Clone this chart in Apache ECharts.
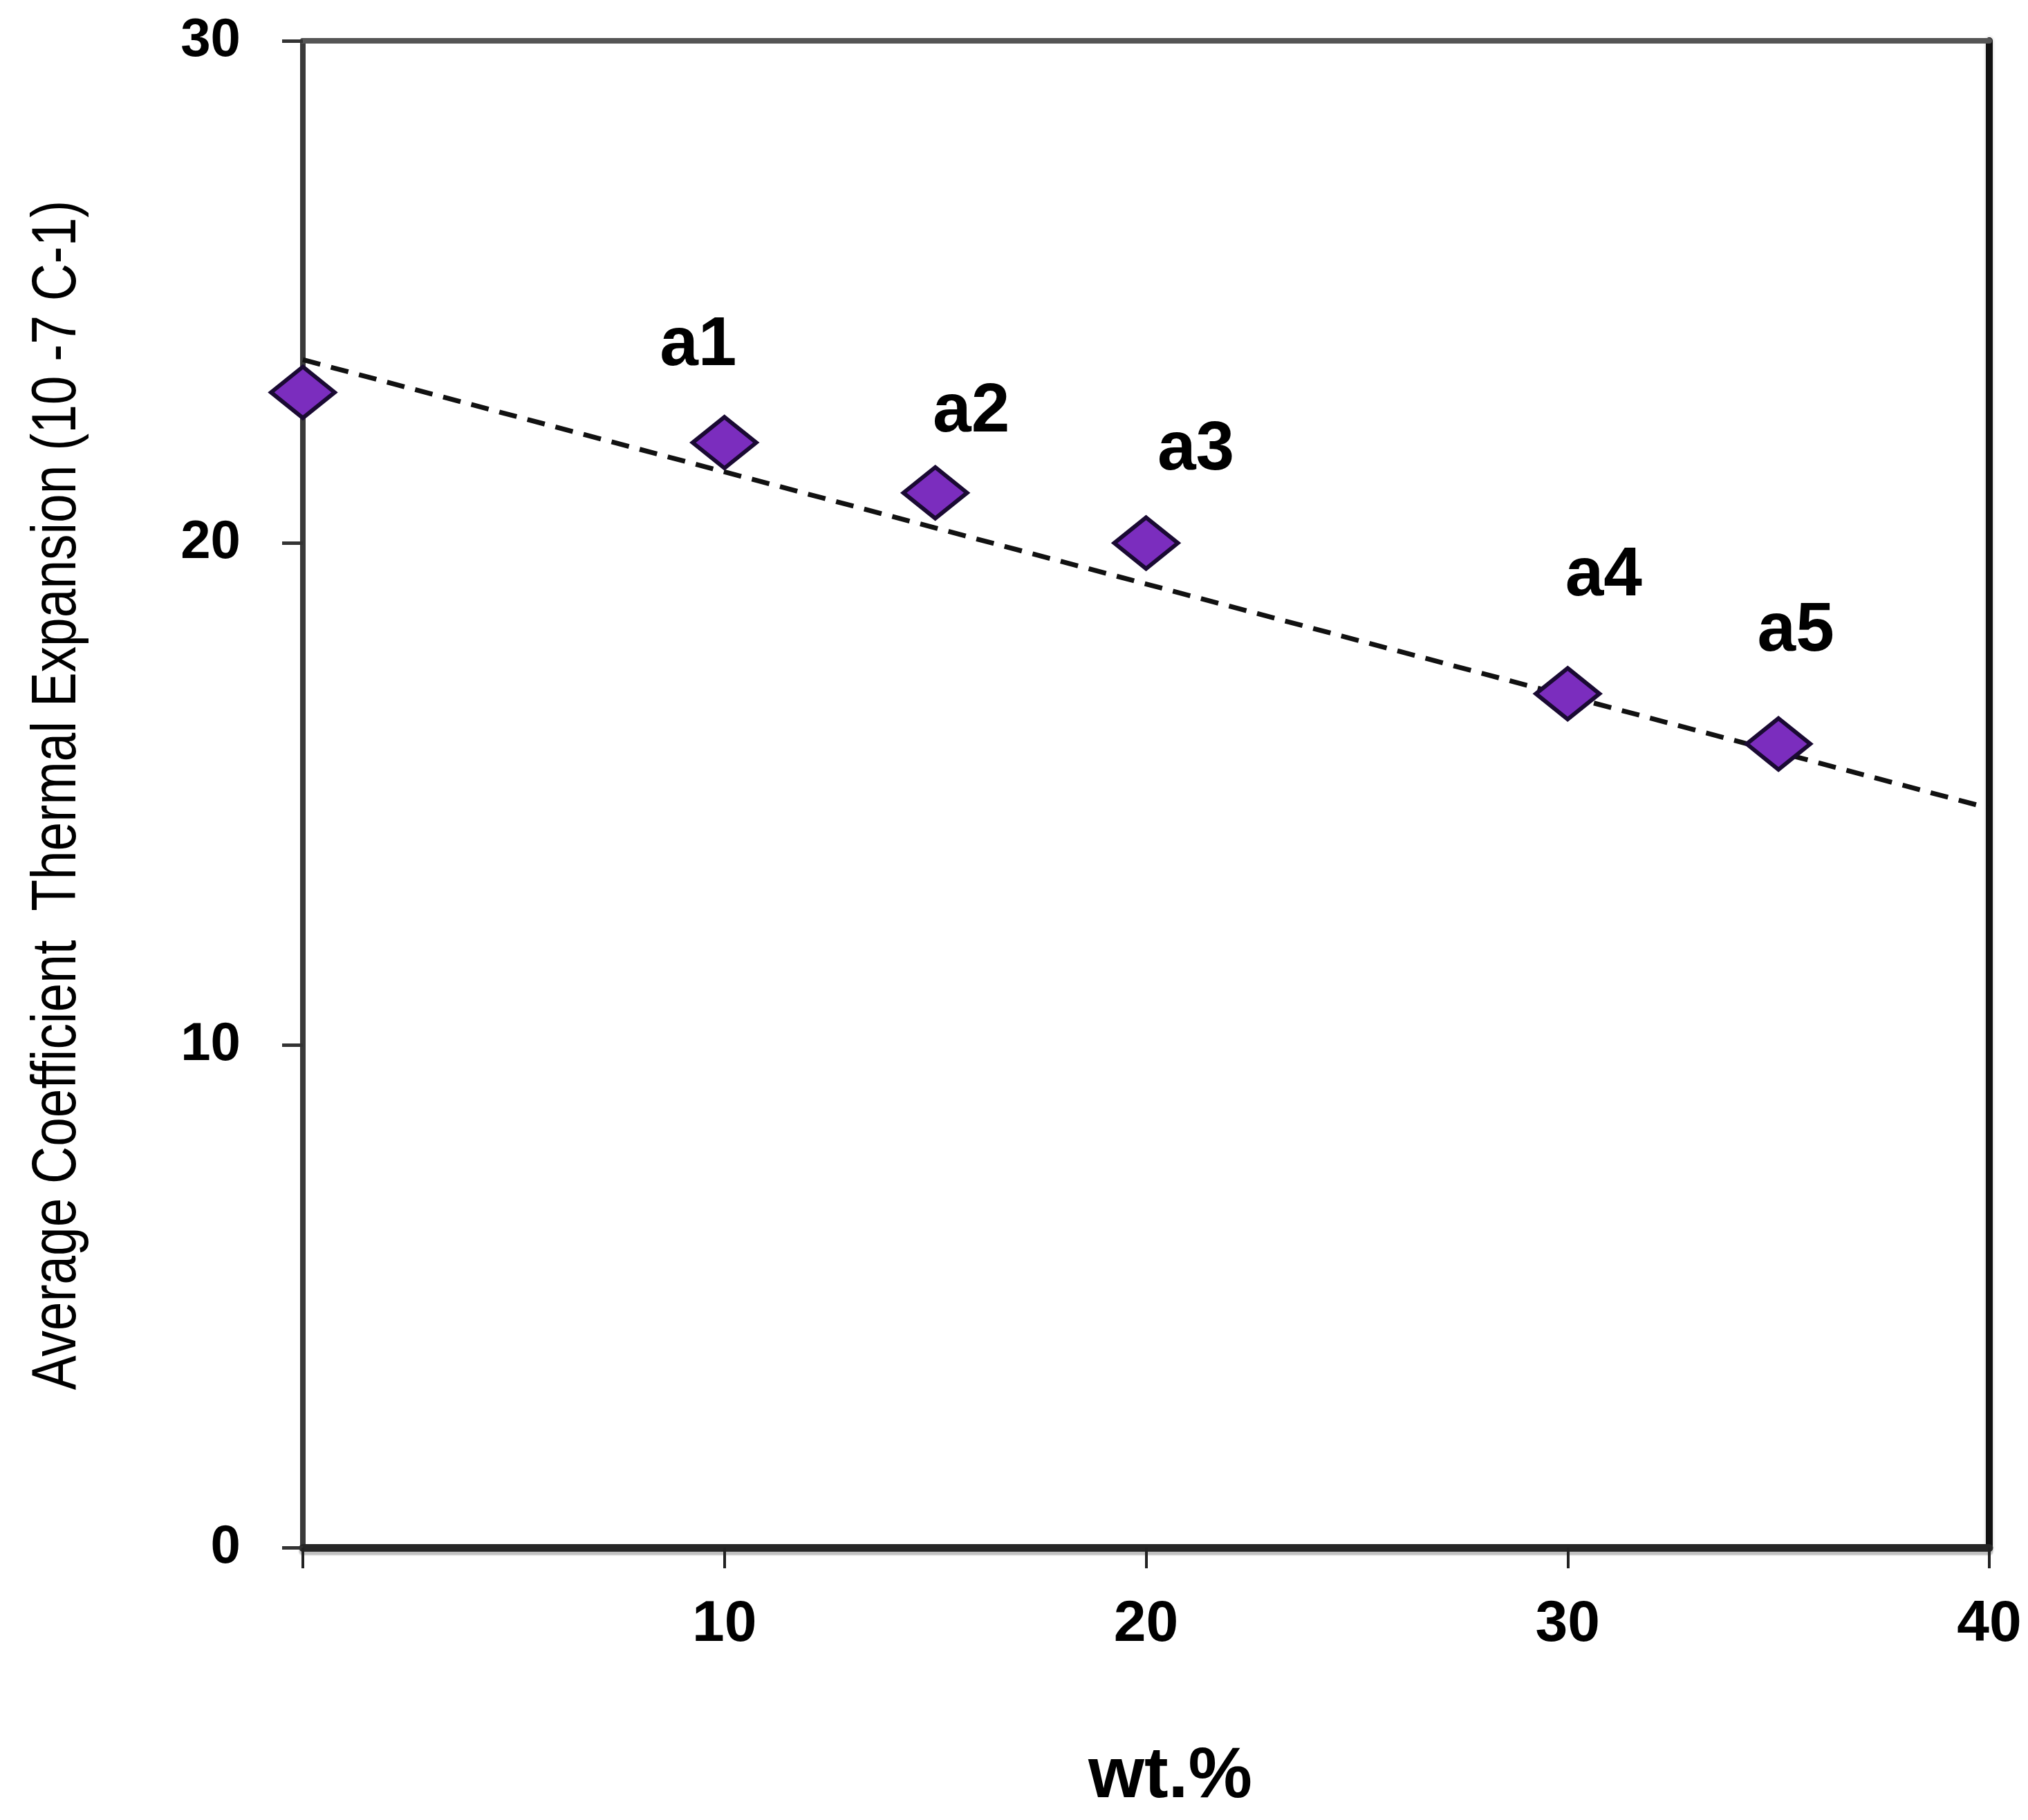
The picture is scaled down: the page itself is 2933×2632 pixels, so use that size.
<!DOCTYPE html>
<html>
<head>
<meta charset="utf-8">
<script src="https://cdn.jsdelivr.net/npm/echarts@6/dist/echarts.min.js"></script>
<style>
  html, body { margin: 0; padding: 0; background: #ffffff; }
  #chart { width: 2933px; height: 2632px; }
</style>
</head>
<body>
<div id="chart"></div>
<script>
// ---- data ----
const wtPercent   = [0, 10, 15, 20, 30, 35];
const cteValues   = [23.0, 22.0, 21.0, 20.0, 17.0, 16.0];
const pointNames  = ['', 'a1', 'a2', 'a3', 'a4', 'a5'];
const trendX      = [0, 40];
const trendY      = [23.65, 14.72];
const xTicks      = [0, 10, 20, 30, 40];
const yTicks      = [0, 10, 20, 30];
const xTitle      = 'wt.%';
const yTitle      = 'Average Coefficient  Thermal Expansion (10 -7 C-1)';

// label offsets (style only, pixels)
const labelOffsets = [[0, 0], [-38, -140], [52, -116], [72, -134], [52, -170], [25, -162]];

const chart = echarts.init(document.getElementById('chart'), null, { renderer: 'canvas' });

const scatterData = wtPercent.map((x, i) => ({
  value: [x, cteValues[i]],
  label: {
    show: pointNames[i] !== '',
    formatter: pointNames[i],
    position: 'inside',
    offset: labelOffsets[i]
  }
}));
const trendData = trendX.map((x, i) => [x, trendY[i]]);

const labelFont = "'Liberation Sans', Arial, sans-serif";

const option = {
  backgroundColor: '#ffffff',
  animation: false,
  grid: { left: 438, right: 56, top: 59, bottom: 394, containLabel: false },
  graphic: [
    {
      type: 'text',
      x: 84, y: 1150,
      rotation: Math.PI / 2,
      scaleX: 0.823,
      style: {
        text: yTitle,
        fontFamily: labelFont, fontSize: 91, fill: '#000',
        align: 'center', verticalAlign: 'middle',
        textAlign: 'center', textVerticalAlign: 'middle'
      }
    }
  ],
  xAxis: [
    {
      type: 'value', min: 0, max: 40, interval: 10, position: 'bottom',
      name: xTitle, nameLocation: 'middle', nameGap: 280,
      nameTextStyle: { fontFamily: labelFont, fontWeight: 'bold', fontSize: 104, color: '#000', padding: [0, 0, 0, 70] },
      axisLine: { show: true, onZero: false, lineStyle: { color: '#262626', width: 11, shadowColor: 'rgba(0,0,0,0.25)', shadowOffsetY: 5, shadowBlur: 2 } },
      axisTick: { show: true, inside: false, length: 30, lineStyle: { color: '#222', width: 4 } },
      axisLabel: {
        show: true, margin: 70, fontFamily: labelFont, fontWeight: 'bold', fontSize: 84, color: '#000',
        formatter: v => (xTicks.indexOf(v) > 0 ? String(v) : '')
      },
      splitLine: { show: false }
    },
    {
      type: 'value', min: 0, max: 40, interval: 10, position: 'top',
      axisLine: { show: true, onZero: false, lineStyle: { color: '#555555', width: 8 } },
      axisTick: { show: false }, axisLabel: { show: false }, splitLine: { show: false }
    }
  ],
  yAxis: [
    {
      type: 'value', min: 0, max: 30, interval: 10, position: 'left',
      axisLine: { show: true, onZero: false, lineStyle: { color: '#3a3a3a', width: 8 } },
      axisTick: { show: true, inside: false, length: 30, lineStyle: { color: '#333', width: 5 } },
      axisLabel: {
        show: true, margin: 90, fontFamily: labelFont, fontWeight: 'bold', fontSize: 78, color: '#000',
        formatter: v => (yTicks.indexOf(v) >= 0 ? String(v) : '')
      },
      splitLine: { show: false }
    },
    {
      type: 'value', min: 0, max: 30, interval: 10, position: 'right',
      axisLine: { show: true, onZero: false, lineStyle: { color: '#111111', width: 10, shadowColor: 'rgba(0,0,0,0.25)', shadowBlur: 4 } },
      axisTick: { show: false }, axisLabel: { show: false }, splitLine: { show: false }
    }
  ],
  series: [
    {
      name: 'trend', type: 'line', xAxisIndex: 0, yAxisIndex: 0,
      data: trendData, symbol: 'none', z: 2, silent: true,
      lineStyle: { color: '#111111', width: 7, type: [26, 16] }
    },
    {
      name: 'CTE', type: 'scatter', xAxisIndex: 0, yAxisIndex: 0,
      data: scatterData, symbol: 'diamond', symbolSize: [92, 74], z: 5,
      itemStyle: { color: '#7B2DBE', borderColor: '#1a0a33', borderWidth: 6, opacity: 1 },
      label: {
        fontFamily: labelFont, fontWeight: 'bold', fontSize: 100, color: '#000',
        align: 'center', verticalAlign: 'middle'
      }
    }
  ]
};

chart.setOption(option);
</script>
</body>
</html>
